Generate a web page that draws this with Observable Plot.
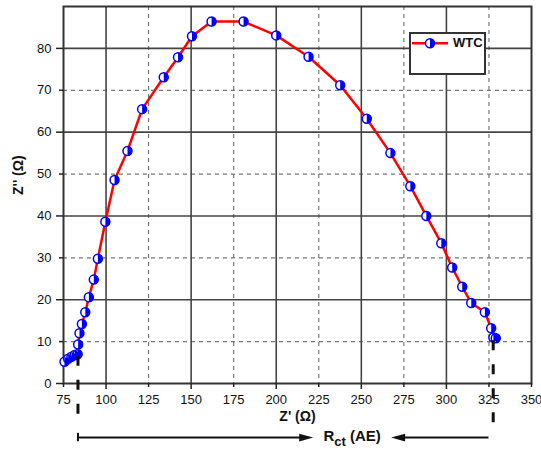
<!DOCTYPE html>
<html><head><meta charset="utf-8">
<script src="https://cdn.jsdelivr.net/npm/d3@7"></script>
<script src="https://cdn.jsdelivr.net/npm/@observablehq/plot@0.6"></script>
<style>
body{margin:0;background:#fff;}
#wrap{position:relative;width:541px;height:454px;}
#legend{position:absolute;left:409px;top:32px;width:77px;height:43px;box-sizing:border-box;border:2px solid #333;background:#fff;font:bold 13px "Liberation Sans",Arial,sans-serif;color:#111;}
#legend svg{position:absolute;left:0;top:0;}
#legend span{position:absolute;left:42px;top:0;line-height:18px;}
</style></head><body><div id="wrap"></div>
<script>
const zReal = [75.6,77.7,79.7,81.6,83.3,83.6,84.4,85.8,87.8,89.9,92.8,95.2,99.6,105.0,112.6,121.2,133.9,142.3,150.5,162.0,180.8,200.0,219.0,237.6,253.2,267.1,278.8,288.2,297.0,303.4,309.3,314.6,322.6,326.3,327.6,329.0];
const zImag = [5.2,5.9,6.4,6.8,7.0,9.3,12.0,14.2,17.0,20.6,24.8,29.8,38.6,48.6,55.5,65.5,73.1,77.9,82.9,86.4,86.4,83.1,78.0,71.2,63.2,55.0,47.1,40.0,33.5,27.7,23.1,19.2,17.0,13.2,11.0,10.8];
const seriesName = "WTC";
const xMajorTicks = [100,150,200,250,300];
const xMinorTicks = [75,125,175,225,275,325,350];
const yMajorTicks = [0,20,40,60,80];
const yMinorTicks = [10,30,50,70];
const rctBounds = [83.5, 327.5];
const rctStartY = [6.5, 10.2];
const rctEndY = [-9, -11.5];
const rctArrowY = -12.9;
const rctArrowStarts = [83.5, 325];
const rctArrowTips = [221.7, 267.5];
const rctLabel = "Rct (AE)";
const rctLabelX = 244.6;

const data = zReal.map((x, i) => ({x, y: zImag[i]}));
const rctLines = rctBounds.map((x, i) => ({x, y1: rctStartY[i], y2: rctEndY[i]}));
const arrows = rctArrowStarts.map((s, i) => ({s, t: rctArrowTips[i], dir: i === 0 ? 1 : -1}));

const halfRight = {draw(ctx, size){const r = Math.sqrt(size/Math.PI); ctx.moveTo(0,-r); ctx.arc(0,0,r,-Math.PI/2,Math.PI/2); ctx.closePath();}};
const headRight = {draw(ctx, size){const r = Math.sqrt(size/Math.PI); ctx.moveTo(0,0); ctx.lineTo(-2*r,-0.55*r); ctx.lineTo(-2*r,0.55*r); ctx.closePath();}};
const headLeft = {draw(ctx, size){const r = Math.sqrt(size/Math.PI); ctx.moveTo(0,0); ctx.lineTo(2*r,-0.55*r); ctx.lineTo(2*r,0.55*r); ctx.closePath();}};

const font = '"Liberation Sans", Arial, sans-serif';
const chart = Plot.plot({
  width: 541, height: 454,
  marginLeft: 63, marginRight: 10, marginTop: 6, marginBottom: 71,
  style: {fontFamily: font, fontSize: "13px", color: "#111", background: "#fff"},
  x: {domain: [75, 350]},
  y: {domain: [0, 90]},
  marks: [
    Plot.ruleX(xMinorTicks.filter(d => d > 75 && d < 350), {stroke: "#777", strokeWidth: 1.2, strokeDasharray: "4,4"}),
    Plot.ruleY(yMinorTicks, {stroke: "#777", strokeWidth: 1.2, strokeDasharray: "4,4"}),
    Plot.ruleX(xMajorTicks, {stroke: "#444", strokeWidth: 1.6}),
    Plot.ruleY(yMajorTicks.filter(d => d > 0), {stroke: "#444", strokeWidth: 1.6}),
    Plot.frame({stroke: "#333", strokeWidth: 2}),
    Plot.axisX(xMajorTicks, {tickSize: 6, tickPadding: 5, label: null, stroke: "#222", strokeWidth: 1.5}),
    Plot.axisX(xMinorTicks, {tickSize: 4, tickPadding: 7, label: null, stroke: "#222", strokeWidth: 1.5}),
    Plot.axisY(yMajorTicks, {tickSize: 7, tickPadding: 5, label: null, stroke: "#222", strokeWidth: 1.5}),
    Plot.axisY(yMinorTicks, {tickSize: 4, tickPadding: 8, label: null, stroke: "#222", strokeWidth: 1.5}),
    Plot.text(["Z' (Ω)"], {frameAnchor: "bottom", dy: 37, fontWeight: "bold", fontSize: 14}),
    Plot.text(["Z'' (Ω)"], {frameAnchor: "left", dx: -45, rotate: -90, fontWeight: "bold", fontSize: 14}),
    Plot.line(data, {x: "x", y: "y", stroke: "#ff0000", strokeWidth: 2.5}),
    Plot.dot(data, {x: "x", y: "y", r: 4.5, fill: "#fff", stroke: "#0000ff", strokeWidth: 1.5}),
    Plot.dot(data, {x: "x", y: "y", r: 4.5, symbol: halfRight, fill: "#0000ff"}),
    Plot.ruleX(rctLines, {x: "x", y1: "y1", y2: "y2", stroke: "#111", strokeWidth: 3, strokeDasharray: "10,14"}),
    Plot.ruleY(arrows, {y: () => rctArrowY, x1: "s", x2: d => d.t - 3 * d.dir, stroke: "#111", strokeWidth: 2}),
    Plot.ruleX([rctArrowStarts[0]], {y1: rctArrowY - 1, y2: rctArrowY + 1, stroke: "#111", strokeWidth: 2}),
    Plot.dot([arrows[0]], {x: "t", y: () => rctArrowY, r: 7, symbol: headRight, fill: "#111"}),
    Plot.dot([arrows[1]], {x: "t", y: () => rctArrowY, r: 7, symbol: headLeft, fill: "#111"}),
    Plot.text([rctLabel], {x: rctLabelX, y: rctArrowY, fontWeight: "bold", fontSize: 15, dy: -1})
  ]
});
d3.select(chart).selectAll("text").filter(function(){ return this.textContent === rctLabel; })
  .each(function(){
    const t = d3.select(this);
    t.text("");
    t.append("tspan").text("R");
    t.append("tspan").attr("dy", "5").attr("font-size", "13").text("ct");
    t.append("tspan").attr("dy", "-5").text(" (AE)");
  });
const wrap = document.getElementById("wrap");
wrap.appendChild(chart);
const legend = document.createElement("div");
legend.id = "legend";
legend.innerHTML = `<svg width="73" height="39"><line x1="1" x2="37" y1="9.3" y2="9.3" stroke="#ff0000" stroke-width="2.5"/><circle cx="19" cy="9.3" r="4.5" fill="#fff" stroke="#0000ff" stroke-width="1.5"/><path d="M19,4.8A4.5,4.5 0 0 1 19,13.8Z" fill="#0000ff"/></svg><span>${seriesName}</span>`;
wrap.appendChild(legend);
</script></body></html>
